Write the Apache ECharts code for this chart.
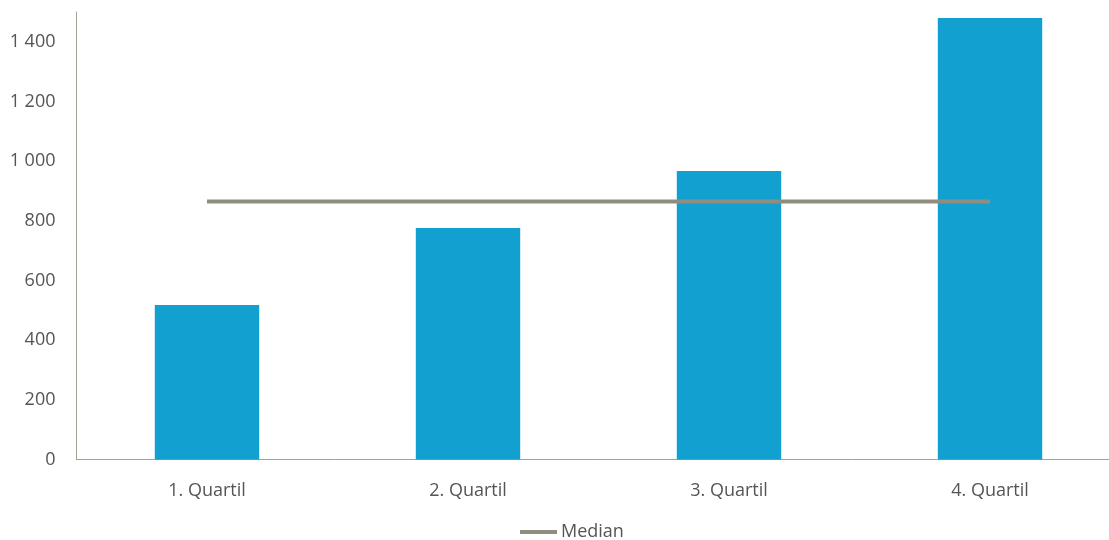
<!DOCTYPE html>
<html>
<head>
<meta charset="utf-8">
<script src="https://cdn.jsdelivr.net/npm/echarts@6/dist/echarts.min.js"></script>
<style>
  html, body { margin: 0; padding: 0; background: #ffffff; }
  #chart { width: 1109px; height: 540px; }
</style>
</head>
<body>
<div id="chart"></div>
<script>
// Quartile categories and their values
const categories = ['1. Quartil', '2. Quartil', '3. Quartil', '4. Quartil'];
const quartileValues = [518, 776, 967, 1480];
const medianValue = 865;
const medianLine = categories.map(() => medianValue);

const yMin = 0;
const yMax = 1500;
const yInterval = 200;

const FONT = '"Open Sans", "Noto Sans", sans-serif';
const TEXT = '#555555';
const AXIS = '#a4a294';

function spaced(v) {
  return String(v).replace(/\B(?=(\d{3})+(?!\d))/g, ' ');
}

const chart = echarts.init(document.getElementById('chart'), null, { renderer: 'canvas' });
chart.setOption({
  animation: false,
  backgroundColor: '#ffffff',
  textStyle: { fontFamily: FONT },
  grid: {
    left: 76.5,
    right: -11.5,
    top: 12,
    bottom: 80.5,
    outerBoundsMode: 'none',
    containLabel: false
  },
  legend: {
    data: [{ name: 'Median', icon: 'rect' }],
    left: 520,
    top: 523,
    padding: 0,
    itemWidth: 37,
    itemHeight: 4,
    itemGap: 4,
    textStyle: { color: TEXT, fontSize: 18, fontFamily: FONT, padding: [0, 0, 0, -1] }
  },
  xAxis: {
    type: 'category',
    data: categories,
    axisLine: { show: true, lineStyle: { color: AXIS, width: 1 } },
    axisTick: { show: false },
    axisLabel: { color: TEXT, fontSize: 18, margin: 22, fontFamily: FONT },
    splitLine: { show: false }
  },
  yAxis: {
    type: 'value',
    min: yMin,
    max: yMax,
    interval: yInterval,
    axisLine: { show: true, lineStyle: { color: AXIS, width: 1 } },
    axisTick: { show: false },
    splitLine: { show: false },
    axisLabel: {
      color: TEXT,
      fontSize: 18,
      margin: 21,
      fontFamily: FONT,
      showMaxLabel: false,
      formatter: spaced
    }
  },
  series: [
    {
      name: 'Quartil',
      type: 'bar',
      data: quartileValues,
      barWidth: '40%',
      itemStyle: { color: '#12a0d0' }
    },
    {
      name: 'Median',
      type: 'line',
      data: medianLine,
      symbol: 'none',
      lineStyle: { color: '#8f8d80', width: 4 },
      itemStyle: { color: '#8f8d80' },
      z: 3
    }
  ]
});
</script>
</body>
</html>
